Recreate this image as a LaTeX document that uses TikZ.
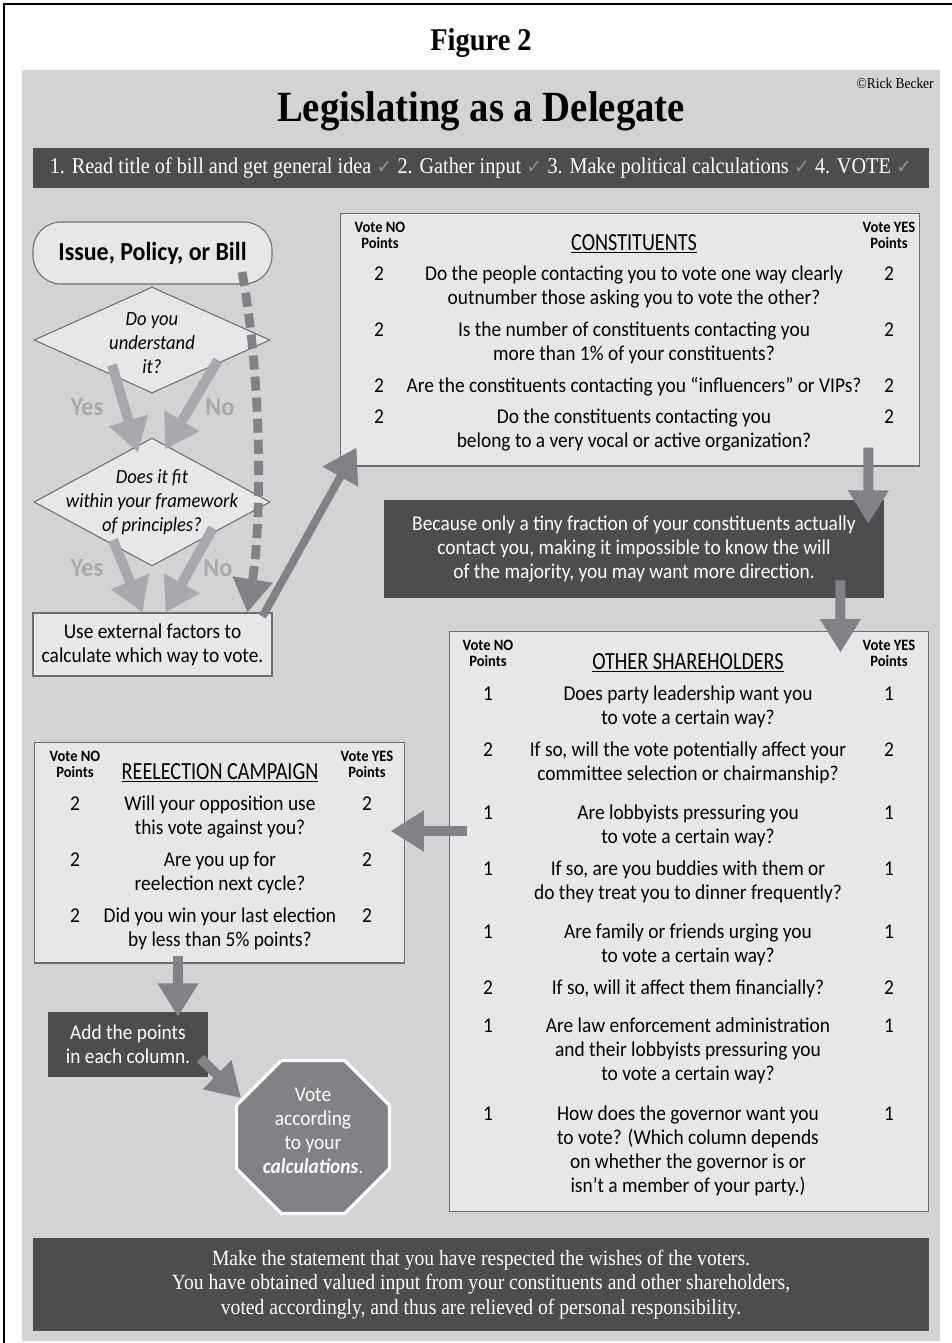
\documentclass[tikz,border=0pt]{standalone}
\usepackage{fontspec}
\setmainfont{Carlito}[FakeStretch=0.92]
\newfontfamily\headfont{Carlito}[FakeStretch=0.82]
\newfontfamily\gfont{Liberation Serif}[FakeStretch=0.9]
\newfontfamily\symfont{DejaVu Sans}
\usetikzlibrary{shapes.geometric,arrows.meta,positioning}

\definecolor{panelgray}{HTML}{D1D3D4}
\definecolor{boxgray}{HTML}{E6E7E8}
\definecolor{darkfill}{HTML}{4D4D4F}
\definecolor{arrowgray}{HTML}{808285}
\definecolor{lightarrow}{HTML}{A7A9AC}
\definecolor{bordergray}{HTML}{6D6E71}
\definecolor{checkgray}{HTML}{8F9194}

\newcommand{\chk}{{\symfont\fontsize{11}{12}\selectfont\color{checkgray}✓}}

\tikzset{
  lightbox/.style={draw=bordergray, fill=boxgray, line width=0.6pt, inner sep=0pt},
  darkbox/.style={fill=darkfill, text=white, inner sep=0pt, align=center},
  choice/.style={diamond, draw=bordergray, fill=boxgray, line width=0.6pt, inner sep=0pt},
  body/.style={font=\fontsize{12}{13.66}\selectfont, align=center, inner sep=0pt},
  row/.style={body, anchor=north},
  colhead/.style={font=\bfseries\fontsize{9}{9.1}\selectfont, align=center, inner sep=0pt},
  heading/.style={font=\headfont\fontsize{14}{16}\selectfont, inner sep=0pt, anchor=base},
  answer/.style={font=\bfseries\fontsize{15}{17}\selectfont, text=lightarrow, inner sep=0pt},
  bigarrow/.style={draw=arrowgray, line width=5.7pt, -{Triangle[width=22pt,length=19pt]}},
  palearrow/.style={bigarrow, draw=lightarrow},
}

\begin{document}
\begin{tikzpicture}[x=0.02cm,y=-0.02cm]
\useasboundingbox (0,0) rectangle (952,1343);
\fill[white] (0,0) rectangle (952,1343);
\draw[line width=1.7pt] (4,1343) -- (4,4) -- (952,4);
\fill[panelgray] (22,70) rectangle (940,1341);

% headings
\node[font=\gfont\bfseries\fontsize{18}{20}\selectfont, inner sep=0pt] (fig) at (481,43) {Figure 2};
\node[font=\gfont\fontsize{8.5}{10}\selectfont, anchor=east, inner sep=0pt] (credit) at (934,83) {©Rick Becker};
\node[font=\gfont\bfseries\fontsize{24.5}{28}\selectfont, inner sep=0pt] (title) at (481,111) {Legislating as a Delegate};
\node[darkbox, minimum width=17.92cm, minimum height=0.8cm, font=\gfont\fontsize{12.8}{14}\selectfont] (steps) at (481,168)
  {1. Read title of bill and get general idea \chk{} 2. Gather input \chk{} 3. Make political calculations \chk{} 4. VOTE \chk};

% left flow
\node[lightbox, rounded corners=16pt, minimum width=4.78cm, minimum height=1.24cm,
  font=\bfseries\fontsize{14.8}{16}\selectfont] (issue) at (152.5,253) {Issue, Policy, or Bill};
\node[choice, minimum width=4.72cm, minimum height=2.12cm] (q1) at (152,340) {};
\node[body, font=\itshape\fontsize{11.5}{13.66}\selectfont] (q1txt) at (152,343) {Do you\\understand\\it?};
\node[choice, minimum width=4.72cm, minimum height=2.56cm] (q2) at (152,502) {};
\node[body, font=\itshape\fontsize{11.5}{13.66}\selectfont] (q2txt) at (152,502) {Does it fit\\within your framework\\of principles?};
\node[lightbox, body, minimum width=4.78cm, minimum height=1.26cm] (ext) at (152.5,644.5)
  {Use external factors to\\calculate which way to vote.};
\node[answer] (yes1) at (87,407) {Yes};
\node[answer] (no1) at (220,407) {No};
\node[answer] (yes2) at (87,568) {Yes};
\node[answer] (no2) at (218,568) {No};

% constituents
\node[lightbox, minimum width=11.6cm, minimum height=5.06cm] (cons) at (630,339.5) {};
\node[colhead] (consno) at (380,235) {Vote NO\\Points};
\node[colhead] (consyes) at (889,235) {Vote YES\\Points};
\node[heading] (constitle) at (634,250) {\underline{CONSTITUENTS}};
\foreach \y/\t in {
  273/{Do the people contacting you to vote one way clearly\\outnumber those asking you to vote the other?},
  329/{Is the number of constituents contacting you\\more than 1\% of your constituents?},
  385/{Are the constituents contacting you “influencers” or VIPs?},
  416/{Do the constituents contacting you\\belong to a very vocal or active organization?}}
{
  \node[row] (cl\y) at (379,\y-10) {\strut 2};
  \node[row] (ct\y) at (634,\y-10) {\strut\t};
  \node[row] (cr\y) at (889,\y-10) {\strut 2};
}

\node[darkbox, body, text=white, minimum width=10cm, minimum height=1.96cm] (gap) at (634,549)
  {Because only a tiny fraction of your constituents actually\\contact you, making it impossible to know the will\\of the majority, you may want more direction.};

% other shareholders
\node[lightbox, minimum width=9.6cm, minimum height=11.62cm] (other) at (689,921.5) {};
\node[colhead] (otherno) at (488,653) {Vote NO\\Points};
\node[colhead] (otheryes) at (889,653) {Vote YES\\Points};
\node[heading] (othertitle) at (688,669) {\underline{OTHER SHAREHOLDERS}};
\foreach \y/\n/\t in {
  693/1/{Does party leadership want you\\to vote a certain way?},
  749/2/{If so, will the vote potentially affect your\\committee selection or chairmanship?},
  812/1/{Are lobbyists pressuring you\\to vote a certain way?},
  868/1/{If so, are you buddies with them or\\do they treat you to dinner frequently?},
  931/1/{Are family or friends urging you\\to vote a certain way?},
  987/2/{If so, will it affect them financially?},
  1025/1/{Are law enforcement administration\\and their lobbyists pressuring you\\to vote a certain way?},
  1113/1/{How does the governor want you\\to vote? (Which column depends\\on whether the governor is or\\isn’t a member of your party.)}}
{
  \node[row] (ol\y) at (488,\y-10) {\strut\n};
  \node[row] (ot\y) at (688,\y-10) {\strut\t};
  \node[row] (or\y) at (889,\y-10) {\strut\n};
}

% reelection
\node[lightbox, minimum width=7.42cm, minimum height=4.42cm] (reelect) at (219.5,852.5) {};
\node[colhead] (reno) at (75,764) {Vote NO\\Points};
\node[colhead] (reyes) at (367,764) {Vote YES\\Points};
\node[heading] (retitle) at (220,779) {\underline{REELECTION CAMPAIGN}};
\foreach \y/\t in {
  803/{Will your opposition use\\this vote against you?},
  859/{Are you up for\\reelection next cycle?},
  915/{Did you win your last election\\by less than 5\% points?}}
{
  \node[row] (rl\y) at (75,\y-10) {\strut 2};
  \node[row] (rt\y) at (220,\y-10) {\strut\t};
  \node[row] (rr\y) at (367,\y-10) {\strut 2};
}

\node[darkbox, body, text=white, minimum width=3.2cm, minimum height=1.3cm] (add) at (128,1044.5)
  {Add the points\\in each column.};
\node[regular polygon, regular polygon sides=8, minimum size=3.31cm, fill=arrowgray, draw=white,
  line width=1.8pt, inner sep=0pt] (vote) at (313,1137) {};
\node[body, text=white] (votetxt) at (313,1131) {Vote\\according\\to your\\\textbf{\textit{calculations}}.};

\node[darkbox, minimum width=17.92cm, minimum height=1.86cm, font=\gfont\fontsize{12.4}{13.9}\selectfont] (wrap) at (481,1284.5)
  {Make the statement that you have respected the wishes of the voters.\\
   You have obtained valued input from your constituents and other shareholders,\\
   voted accordingly, and thus are relieved of personal responsibility.};

% arrows
\draw[palearrow] ([shift={(-40,25)}]q1.center) -- ([shift={(-14,15)}]q2.north);
\draw[palearrow] ([shift={(66,20)}]q1.center) -- ([shift={(13,12)}]q2.north);
\draw[palearrow] ([shift={(-39,38)}]q2.center) -- ([shift={(-10,0)}]ext.north);
\draw[palearrow] ([shift={(61,26)}]q2.center) -- ([shift={(13,0)}]ext.north);
\draw[bigarrow, line width=5pt, dash pattern=on 8pt off 4pt]
  ([shift={(89.5,19)}]issue.center) .. controls (262,380) and (262,520) .. ([shift={(-25,0)}]ext.north east);
\draw[bigarrow, line width=4.5pt] ([shift={(-10,4)}]ext.north east) -- ([shift={(17,-19)}]cons.south west);
\draw[bigarrow] ([shift={(-52,-19)}]cons.south east) -- ([shift={(-16,24)}]gap.north east);
\draw[bigarrow] ([shift={(-44,-18)}]gap.south east) -- ([shift={(-89,22)}]other.north east);
\draw[bigarrow] ([shift={(18,-90.5)}]other.west) -- ([shift={(-15,-21.5)}]reelect.east);
\draw[bigarrow] ([shift={(-41.5,-8)}]reelect.south) -- ([shift={(50,5)}]add.north);
\draw[bigarrow] ([shift={(-8,-19)}]add.south east) -- ([shift={(-72,-39)}]vote.center);
\end{tikzpicture}
\end{document}
